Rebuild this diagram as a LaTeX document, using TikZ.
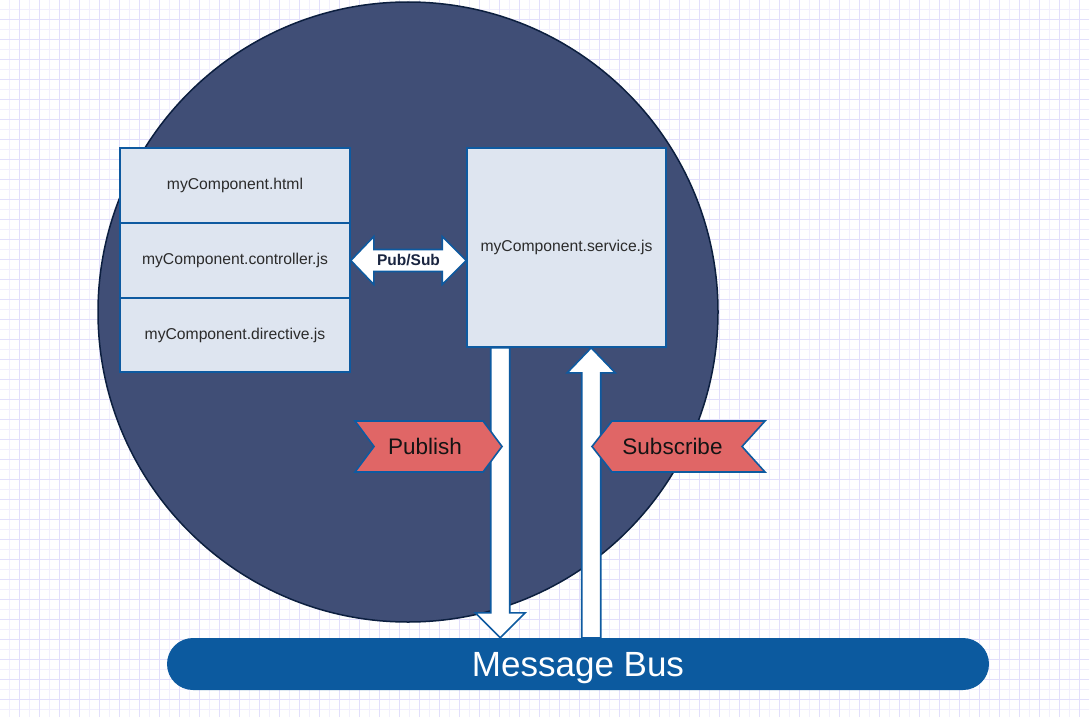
\documentclass[tikz,border=0pt]{standalone}
\usepackage{fontspec}
\setmainfont{Liberation Sans}
\usetikzlibrary{calc}
\definecolor{gridminor}{HTML}{F1EFFD}
\definecolor{gridmajor}{HTML}{E2DFFB}
\definecolor{navy}{HTML}{404E76}
\definecolor{navyline}{HTML}{0C1F3F}
\definecolor{boxfill}{HTML}{DEE5F0}
\definecolor{boxline}{HTML}{0E5AA0}
\definecolor{busblue}{HTML}{0C5A9F}
\definecolor{flagred}{HTML}{E06666}
\definecolor{txtgray}{HTML}{2B2B2B}
\definecolor{pubtxt}{HTML}{1A2540}
\begin{document}
\begin{tikzpicture}[x=1pt,y=-1pt,
  filebox/.style={draw=boxline, fill=boxfill, line width=1.6pt, inner sep=0pt,
    text=txtgray, font=\fontsize{15.7}{18}\selectfont},
  blockarrow/.style={draw=boxline, fill=white, line width=1.6pt, line join=miter},
  flagshape/.style={draw=boxline, fill=flagred, line width=1.6pt, line join=miter},
  flagtext/.style={text=black!92, font=\fontsize{22.5}{26}\selectfont, inner sep=0pt}
]
\useasboundingbox (0,0) rectangle (1089,717);
\fill[white] (0,0) rectangle (1089,717);
% grid
\foreach \i in {0,...,108} {\draw[gridminor, line width=1pt] (\i*10+9.5,0) -- (\i*10+9.5,717);}
\foreach \i in {0,...,71} {\draw[gridminor, line width=1pt] (0,\i*10+9.5) -- (1089,\i*10+9.5);}
\foreach \i in {0,...,54} {\draw[gridmajor, line width=1pt] (\i*20+19.5,0) -- (\i*20+19.5,717);}
\foreach \i in {0,...,35} {\draw[gridmajor, line width=1pt] (0,\i*20+19.5) -- (1089,\i*20+19.5);}

% component circle
\node[circle, draw=navyline, fill=navy, line width=1.5pt, minimum size=620pt, inner sep=0pt] (comp) at (408,312) {};

% files
\node[filebox, minimum width=230pt, minimum height=75pt] (html) at (235,185.5) {myComponent.html};
\node[filebox, minimum width=230pt, minimum height=75pt] (ctrl) at (235,260.5) {myComponent.controller.js};
\node[filebox, minimum width=230pt, minimum height=74pt] (dir) at (235,335) {myComponent.directive.js};
\node[filebox, minimum width=199pt, minimum height=199pt] (svc) at (566.5,247.5) {myComponent.service.js};

% message bus
\node[fill=busblue, rounded corners=26pt, minimum width=822pt, minimum height=52pt, inner sep=0pt,
  text depth=0pt, text=white, font=\fontsize{35}{40}\selectfont] (bus) at (578,664) {Message Bus};

% Pub/Sub double arrow
\coordinate (A) at (ctrl.east);
\coordinate (B) at (ctrl.east -| svc.west);
\draw[blockarrow] (A) -- ($(A)+(23,-24)$) -- ($(A)+(23,-11)$) -- ($(B)+(-24,-11)$) -- ($(B)+(-24,-24)$)
  -- (B) -- ($(B)+(-24,24)$) -- ($(B)+(-24,11)$) -- ($(A)+(23,11)$) -- ($(A)+(23,24)$) -- cycle;
\node[text=pubtxt, font=\bfseries\fontsize{15.5}{18}\selectfont, inner sep=0pt] (pubsub) at ($(A)!0.5!(B)$) {Pub/Sub};

% publish arrow (service -> bus)
\coordinate (P) at ($(svc.south west)+(34,0)$);
\coordinate (Q) at (P |- bus.north);
\draw[blockarrow] ($(P)+(-9.5,0)$) -- ($(Q)+(-9.5,-25)$) -- ($(Q)+(-25,-25)$) -- (Q)
  -- ($(Q)+(25,-25)$) -- ($(Q)+(9.5,-25)$) -- ($(P)+(9.5,0)$) -- cycle;

% subscribe arrow (bus -> service)
\coordinate (R) at ($(svc.south west)+(125,0)$);
\coordinate (S) at (R |- bus.north);
\draw[blockarrow] ($(S)+(-9.5,0)$) -- ($(R)+(-9.5,25)$) -- ($(R)+(-24,25)$) -- (R)
  -- ($(R)+(24,25)$) -- ($(R)+(9.5,25)$) -- ($(S)+(9.5,0)$) -- cycle;

% Publish flag
\coordinate (pf) at (428,446.5);
\draw[flagshape] ($(pf)+(-73,-25.5)$) -- ($(pf)+(55,-25.5)$) -- ($(pf)+(74,0)$) -- ($(pf)+(55,25.5)$)
  -- ($(pf)+(-73,25.5)$) -- ($(pf)+(-54,0)$) -- cycle;
\node[flagtext] (publish) at ($(pf)+(-3,0)$) {Publish};

% Subscribe flag
\coordinate (sf) at (678.5,446.5);
\draw[flagshape] ($(sf)+(-86.5,0)$) -- ($(sf)+(-66.5,-25.5)$) -- ($(sf)+(86.5,-25.5)$) -- ($(sf)+(63.5,0)$)
  -- ($(sf)+(86.5,25.5)$) -- ($(sf)+(-66.5,25.5)$) -- cycle;
\node[flagtext] (subscribe) at ($(sf)+(-6,0)$) {Subscribe};
\end{tikzpicture}
\end{document}
